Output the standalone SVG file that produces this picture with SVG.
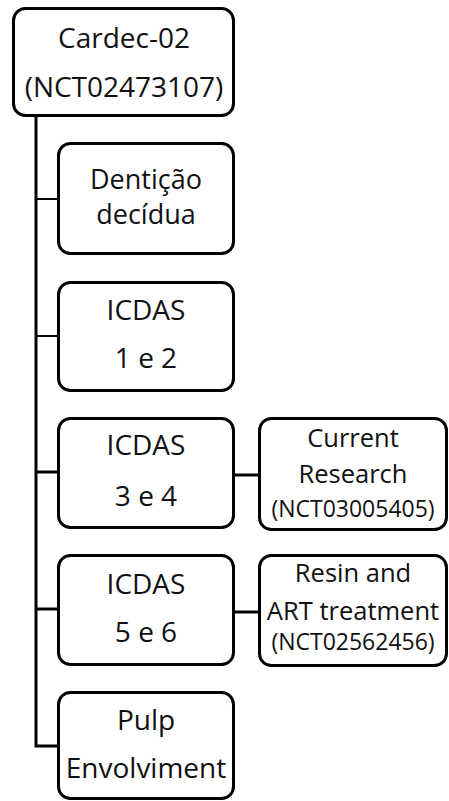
<svg xmlns="http://www.w3.org/2000/svg" width="449" height="801" viewBox="0 0 449 801">
  <style>
    .box { fill: #ffffff; stroke: #000000; stroke-width: 3; }
    .link { fill: none; stroke: #000000; stroke-width: 3; }
    .thin { stroke-width: 2; }
    .lbl { font-family: "Open Sans", "Liberation Sans", sans-serif; fill: #111111; text-anchor: middle; }
    .big { font-size: 28px; }
    .tight { font-size: 27px; }
    .mid { font-size: 25.5px; }
    .small { font-size: 23px; }
  </style>
  <rect width="449" height="801" fill="#ffffff"/>

  <g id="connectors">
    <path class="link" d="M36 115 V746 H58"/>
    <path class="link thin" d="M36 199 H58"/>
    <path class="link thin" d="M36 336 H58"/>
    <path class="link" d="M36 472 H58"/>
    <path class="link" d="M36 609 H58"/>
    <path class="link" d="M233 475 H259"/>
    <path class="link" d="M233 612 H259"/>
  </g>

  <g id="cardec">
    <rect class="box" x="13.5" y="8.5" width="220" height="107" rx="12"/>
    <text class="lbl big" x="124" y="48">Cardec-02</text>
    <text class="lbl big" x="124" y="97">(NCT02473107)</text>
  </g>

  <g id="denticao">
    <rect class="box" x="58.5" y="143.5" width="175" height="110" rx="12"/>
    <text class="lbl tight" x="146" y="189">Dentição</text>
    <text class="lbl tight" x="146" y="224">decídua</text>
  </g>

  <g id="icdas12">
    <rect class="box" x="58.5" y="282.5" width="175" height="108" rx="12"/>
    <text class="lbl big" x="146" y="320">ICDAS</text>
    <text class="lbl big" x="146" y="368">1 e 2</text>
  </g>

  <g id="icdas34">
    <rect class="box" x="58.5" y="418.5" width="175" height="109" rx="12"/>
    <text class="lbl big" x="146" y="455">ICDAS</text>
    <text class="lbl big" x="146" y="506">3 e 4</text>
  </g>

  <g id="research">
    <rect class="box" x="259.5" y="418.5" width="187" height="111" rx="12"/>
    <text class="lbl mid" x="353" y="447">Current</text>
    <text class="lbl mid" x="353" y="483">Research</text>
    <text class="lbl small" x="353" y="517">(NCT03005405)</text>
  </g>

  <g id="icdas56">
    <rect class="box" x="58.5" y="555.5" width="175" height="109" rx="12"/>
    <text class="lbl big" x="146" y="594">ICDAS</text>
    <text class="lbl big" x="146" y="642">5 e 6</text>
  </g>

  <g id="resin">
    <rect class="box" x="259.5" y="555.5" width="187" height="110" rx="12"/>
    <text class="lbl mid" x="353" y="582">Resin and</text>
    <text class="lbl mid" x="353" y="620">ART treatment</text>
    <text class="lbl small" x="353" y="650">(NCT02562456)</text>
  </g>

  <g id="pulp">
    <rect class="box" x="58.5" y="692.5" width="175" height="106" rx="12"/>
    <text class="lbl big" x="146" y="730">Pulp</text>
    <text class="lbl big" x="146" y="778">Envolviment</text>
  </g>
</svg>
